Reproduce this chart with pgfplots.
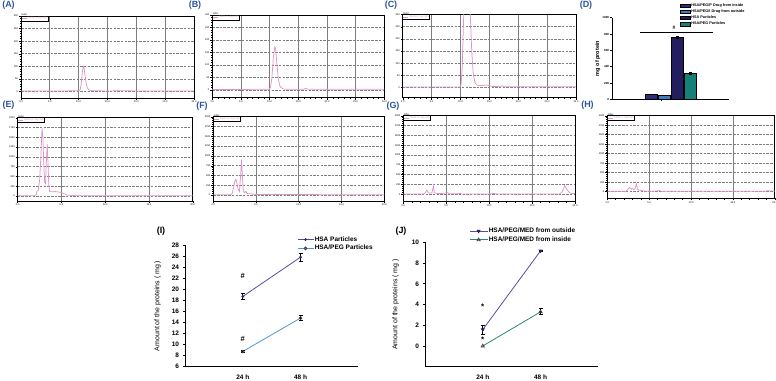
\documentclass[border=0pt]{standalone}
\usepackage{fontspec}
\setmainfont{Liberation Sans}
\usepackage{pgfplots}
\pgfplotsset{compat=1.18}
\definecolor{chrom}{RGB}{222,150,200}
\definecolor{gridg}{RGB}{125,125,125}
\definecolor{lblue}{RGB}{45,85,155}
\definecolor{navyA}{RGB}{45,45,120}
\definecolor{blueB}{RGB}{60,125,195}
\definecolor{navyC}{RGB}{35,30,95}
\definecolor{tealD}{RGB}{20,128,120}
\definecolor{purp}{RGB}{85,75,165}
\definecolor{lineblue}{RGB}{80,150,210}
\definecolor{tealJ}{RGB}{45,135,120}
\pgfplotsset{
  chromline/.style={chrom, line width=0.75bp, mark=none},
  chromax/.style={
    scale only axis, anchor=north west,
    axis line style={black, line width=0.8bp},
    tick align=outside, xtick pos=left, ytick pos=left,
    tick style={black, line width=0.4bp},
    major tick length=2bp, minor tick length=1.2bp,
    minor x tick num=4, minor y tick num=4,
    xmajorgrids, ymajorgrids,
    x grid style={gridg, line width=0.8bp},
    y grid style={gridg, line width=0.7bp, dash pattern=on 2.5bp off 1.2bp},
    ticklabel style={font=\fontsize{2.5}{3}\selectfont, inner sep=0.8bp},
    /pgf/number format/assume math mode=true,
    /pgf/number format/1000 sep={},
    xticklabel style={/pgf/number format/fixed, /pgf/number format/fixed zerofill, /pgf/number format/precision=1},
    ylabel={mAU},
    ylabel style={rotate=-90, at={(rel axis cs:0,1)}, anchor=south west, font=\fontsize{2.5}{3}\selectfont, inner sep=0.3bp},
    legend style={at={(0,1)}, anchor=north west, draw=black, line width=0.7bp, fill=white,
      font=\fontsize{2.5}{3}\selectfont, text=chrom, inner sep=0.4bp, outer sep=0pt,
      nodes={inner sep=0.5bp}},
    legend cell align=left,
    legend image code/.code={\draw[#1] (0bp,0bp) -- (5bp,0bp);},
  },
  chromA/.style={chromax, xmin=0, xmax=30, xtick={0,5,...,30}, ytick={0,50,...,300}, ymax=300},
  chromE/.style={chromax, xmin=0, xmax=20, xtick={0,5,...,20}, ytick={0,250,...,2000}, ymax=2000},
}
\begin{document}
\begin{tikzpicture}
\path[use as bounding box] (0bp,0bp) rectangle (776bp,-381bp);

% panel labels
\begin{scope}[every node/.style={font=\fontsize{9}{10}\selectfont\bfseries, text=lblue, inner sep=0pt}]
\node at (8.5bp,-5bp) {(A)};
\node at (195bp,-5bp) {(B)};
\node at (391bp,-5bp) {(C)};
\node at (586bp,-5bp) {(D)};
\node at (8.5bp,-105bp) {(E)};
\node at (202bp,-106.5bp) {(F)};
\node at (393bp,-106.5bp) {(G)};
\node at (587.5bp,-105bp) {(H)};
\end{scope}
\node[font=\fontsize{9}{10}\selectfont\bfseries, inner sep=0pt] at (161bp,-231bp) {(I)};
\node[font=\fontsize{9}{10}\selectfont\bfseries, inner sep=0pt] at (401bp,-231bp) {(J)};

% (A)
\begin{axis}[chromA, at={(21bp,-16bp)}, width=173bp, height=82bp, ymin=-26]
\addplot[chromline] coordinates {(0,2) (5,2) (10.0,2.5) (10.25,6) (10.45,30) (10.65,80) (10.82,100) (10.95,92) (11.1,65) (11.3,32) (11.5,14) (11.8,6) (12.3,3) (15,2) (18,3) (20,2) (30,2)};
\addlegendentry{DAD1 A, Sig=280}
\end{axis}
% (B)
\begin{axis}[chromA, at={(212.3bp,-15bp)}, width=172bp, height=82.7bp, ymin=-31]
\addplot[chromline] coordinates {(0,2) (9.9,2.5) (10.15,10) (10.4,50) (10.65,130) (10.9,173) (11.05,165) (11.25,110) (11.5,45) (11.8,15) (12.2,6) (12.6,3) (16,3) (16.3,7) (16.6,3) (30,3)};
\addlegendentry{DAD1 A, Sig=280}
\end{axis}
% (C)
\begin{axis}[chromA, at={(402.7bp,-14.7bp)}, width=173.3bp, height=83bp, ymin=-42]
\addplot[chromline] coordinates {(0,2) (9.9,2.5) (10.1,10) (10.3,80) (10.5,250) (10.7,400) (11.0,450) (11.4,420) (11.7,300) (11.95,150) (12.2,60) (12.5,20) (12.9,10) (13.3,8) (14.6,10) (15.0,8) (15.5,4) (17,5) (17.3,7) (17.6,3) (30,3)};
\addlegendentry{DAD1 A, Sig=280}
\end{axis}
% (E)
\begin{axis}[chromE, at={(17.7bp,-117.7bp)}, width=175bp, height=83.3bp, ymin=-125]
\addplot[chromline] coordinates {(0,10) (1.9,10) (2.1,40) (2.2,120) (2.35,150) (2.5,400) (2.65,1000) (2.78,1725) (2.88,1500) (2.98,800) (3.08,350) (3.18,320) (3.28,900) (3.38,1333) (3.47,800) (3.55,300) (3.65,120) (3.8,110) (4.3,115) (4.8,100) (5.1,80) (5.4,50) (5.7,25) (6.2,15) (7.0,25) (7.2,12) (20,10)};
\addlegendentry{DAD1 A, Sig=280}
\end{axis}
% (F)
\begin{axis}[chromE, at={(213.3bp,-116.7bp)}, width=171bp, height=84.3bp, ymin=-150]
\addplot[chromline] coordinates {(0,10) (2.0,10) (2.2,40) (2.4,220) (2.55,380) (2.65,407) (2.75,320) (2.9,150) (3.05,90) (3.2,500) (3.3,907) (3.4,500) (3.5,120) (3.65,60) (3.8,100) (3.95,40) (4.2,35) (4.6,25) (5.2,15) (20,10)};
\addlegendentry{DAD1 A, Sig=280}
\end{axis}
% (G)
\begin{axis}[chromE, at={(403.3bp,-115.7bp)}, width=171.7bp, height=86bp, ymin=-187]
\addplot[chromline] coordinates {(0,10) (2.4,12) (2.6,50) (2.75,110) (2.9,40) (3.1,30) (3.35,40) (3.5,220) (3.62,50) (3.8,25) (4.4,20) (5.2,40) (5.35,15) (6.4,15) (6.6,25) (6.8,12) (10.2,12) (10.5,25) (10.8,12) (18.2,12) (18.5,60) (18.8,220) (19.05,130) (19.35,40) (19.7,22) (20,20)};
\addlegendentry{DAD1 A, Sig=280}
\end{axis}
% (H)
\begin{axis}[chromE, at={(607.3bp,-115.7bp)}, width=167.5bp, height=82.6bp, ymin=-174]
\addplot[chromline] coordinates {(0,10) (2.2,10) (2.4,45) (2.55,90) (2.7,113) (2.85,65) (3.0,90) (3.15,55) (3.3,75) (3.47,200) (3.6,70) (3.8,40) (4.1,30) (4.5,15) (5.5,12) (6.0,22) (6.2,30) (6.4,12) (18.8,12) (19.2,25) (19.6,18) (20,15)};
\addlegendentry{DAD1 A, Sig=280}
\end{axis}

% (D) bar chart
\begin{axis}[scale only axis, anchor=north west, at={(612.3bp,-17.7bp)}, width=117bp, height=81.6bp,
  xmin=0, xmax=9, ymin=0, ymax=1000,
  axis x line*=bottom, axis y line*=left,
  axis line style={black, line width=0.6bp},
  ytick={0,200,...,1000}, xtick={3.8}, xticklabels={},
  tick align=outside, major tick length=2bp, tick style={black, line width=0.5bp},
  yticklabel style={font=\fontsize{3}{3}\selectfont\bfseries, inner sep=1bp},
  /pgf/number format/assume math mode=true,
  /pgf/number format/1000 sep={},
  ylabel={mg of protein},
  ylabel style={font=\fontsize{5.5}{6}\selectfont\bfseries, inner sep=1bp},
  legend style={at={(0.58,1.186)}, anchor=north west, draw=none, fill=none,
    font=\fontsize{3.8}{4}\selectfont\bfseries, inner sep=0pt, row sep=0.8bp,
    nodes={inner sep=0.6bp}},
  legend cell align=left,
  legend image code/.code={\draw[#1] (0bp,-1.7bp) rectangle (10bp,1.7bp);},
  clip=false]
\addplot[ybar, bar width=0.95, bar shift=0pt, fill=navyA, draw=black, line width=0.4bp] coordinates {(3,65)};
\addlegendentry{HSA/PEG/P Drug from inside}
\addplot[ybar, bar width=0.95, bar shift=0pt, fill=blueB, draw=black, line width=0.4bp] coordinates {(4,45)};
\addlegendentry{HSA/PEG/I Drug from outside}
\addplot[ybar, bar width=0.95, bar shift=0pt, fill=navyC, draw=black, line width=0.4bp,
  error bars/.cd, y dir=both, y explicit, error bar style={black, line width=0.5bp},
  error mark options={rotate=90, mark size=1.5bp, black, line width=0.5bp}] coordinates {(5,760) +- (0,12)};
\addlegendentry{HSA Particles}
\addplot[ybar, bar width=0.95, bar shift=0pt, fill=tealD, draw=black, line width=0.4bp,
  error bars/.cd, y dir=both, y explicit, error bar style={black, line width=0.5bp},
  error mark options={rotate=90, mark size=1.5bp, black, line width=0.5bp}] coordinates {(6,322) +- (0,12)};
\addlegendentry{HSA/PEG Particles}
\addplot[black, line width=0.6bp, forget plot] coordinates {(2.13,821) (7.72,821)};
\node[font=\fontsize{5}{5}\selectfont\bfseries] at (axis cs:4.75,873) {\#};
\end{axis}

% (I)
\begin{axis}[scale only axis, anchor=north west, at={(185bp,-245bp)}, width=173.3bp, height=121.7bp,
  xmin=0, xmax=3, ymin=6, ymax=28,
  axis x line*=bottom, axis y line*=left, axis line style={black, line width=0.7bp},
  xtick={1,2}, xticklabels={24 h,48 h}, x tick style={draw=none},
  ytick={6,8,...,28}, tick align=outside, y tick style={black, line width=0.6bp}, major tick length=2.5bp,
  ticklabel style={font=\fontsize{6.5}{7}\selectfont\bfseries},
  xticklabel style={yshift=-2bp},
  /pgf/number format/assume math mode=true,
  ylabel={Amount of the proteins ( mg )}, ylabel style={font=\fontsize{7}{8}\selectfont}, ylabel shift=4bp,
  legend style={at={(0.646,1.078)}, anchor=north west, draw=none, fill=none,
    font=\fontsize{6.5}{7}\selectfont\bfseries, inner sep=0pt, row sep=1bp, nodes={inner sep=0.8bp}},
  legend cell align=left,
  legend image code/.code={\draw[#1, mark repeat=2, mark phase=2] plot coordinates {(0bp,0bp) (8bp,0bp) (16bp,0bp)};},
  clip=false]
\addplot[purp, line width=0.8bp, mark=*, mark size=1bp, mark options={fill=navyA, draw=navyA},
  error bars/.cd, y dir=both, y explicit, error bar style={black, line width=0.8bp},
  error mark options={rotate=90, mark size=2bp, black, line width=0.8bp}]
  coordinates {(1,18.7) +- (0,0.55) (2,25.8) +- (0,0.7)};
\addlegendentry{HSA Particles}
\addplot[lineblue, line width=0.8bp, mark=o, mark size=1.4bp, mark options={draw=darkgray, fill=white},
  error bars/.cd, y dir=both, y explicit, error bar style={black, line width=0.8bp},
  error mark options={rotate=90, mark size=2bp, black, line width=0.8bp}]
  coordinates {(1,8.75) +- (0,0.2) (2,14.8) +- (0,0.45)};
\addlegendentry{HSA/PEG Particles}
\node[font=\fontsize{7.5}{8}\selectfont\bfseries] at (axis cs:1,22.4) {\#};
\node[font=\fontsize{7.5}{8}\selectfont\bfseries] at (axis cs:1,11.1) {\#};
\end{axis}

% (J)
\begin{axis}[scale only axis, anchor=north west, at={(425bp,-242.3bp)}, width=173.3bp, height=124.4bp,
  xmin=0, xmax=3, ymin=-2, ymax=10,
  axis x line*=bottom, axis y line*=left, axis line style={black, line width=0.7bp},
  xtick={1,2}, xticklabels={24 h,48 h}, x tick style={draw=none},
  ytick={0,2,...,10}, tick align=outside, y tick style={black, line width=0.6bp}, major tick length=2.5bp,
  ticklabel style={font=\fontsize{6.5}{7}\selectfont\bfseries},
  xticklabel style={yshift=-2bp},
  /pgf/number format/assume math mode=true,
  ylabel={Amount of the proteins ( mg )}, ylabel style={font=\fontsize{7}{8}\selectfont}, ylabel shift=6bp,
  legend style={at={(0.254,1.123)}, anchor=north west, draw=none, fill=none,
    font=\fontsize{6.5}{7}\selectfont\bfseries, inner sep=0pt, row sep=1bp, nodes={inner sep=0.8bp}},
  legend cell align=left,
  legend image code/.code={\draw[#1, mark repeat=2, mark phase=2] plot coordinates {(0bp,0bp) (9bp,0bp) (18bp,0bp)};},
  clip=false]
\addplot[purp, line width=0.8bp, mark=triangle*, mark size=1.6bp, mark options={rotate=180, fill=navyC, draw=navyC},
  error bars/.cd, y dir=both, y explicit, error bar style={black, line width=0.8bp},
  error mark options={rotate=90, mark size=2bp, black, line width=0.8bp}]
  coordinates {(1,1.58) +- (0,0.42) (2,9.17) +- (0,0.08)};
\addlegendentry{HSA/PEG/MED from outside}
\addplot[tealJ, line width=0.8bp, mark=triangle, mark size=1.8bp, mark options={draw=darkgray, fill=white},
  error bars/.cd, y dir=both, y explicit, error bar style={black, line width=0.8bp},
  error mark options={rotate=90, mark size=2bp, black, line width=0.8bp}]
  coordinates {(1,0.0) (2,3.29) +- (0,0.29)};
\addlegendentry{HSA/PEG/MED from inside}
\node[font=\fontsize{8}{8}\selectfont\bfseries, yshift=-2bp] at (axis cs:1,4.0) {*};
\node[font=\fontsize{8}{8}\selectfont\bfseries, yshift=-2bp] at (axis cs:1,0.77) {*};
\end{axis}
\end{tikzpicture}
\end{document}
